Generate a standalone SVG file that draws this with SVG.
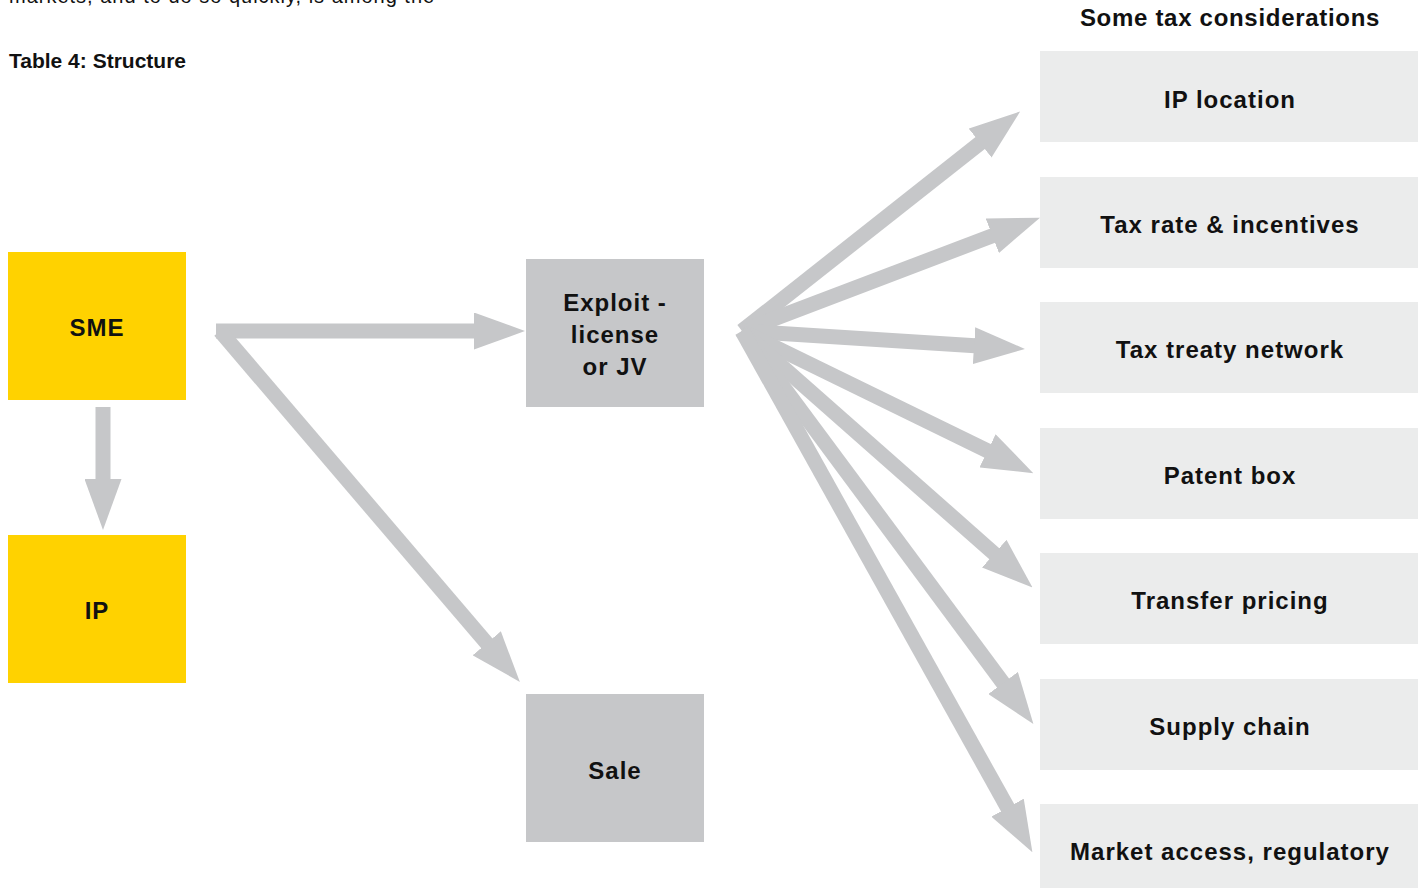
<svg xmlns="http://www.w3.org/2000/svg" width="1424" height="888" viewBox="0 0 1424 888">
<style>
text{font-family:"Liberation Sans",Arial,sans-serif;fill:#111111}
.lbl{font-size:24px;font-weight:bold;text-anchor:middle;letter-spacing:1px}
.yel{fill:#ffd200}
.dark{fill:#c6c7c9}
.light{fill:#ebecec}
.arr{stroke:#c6c7c9;stroke-width:15;fill:none;stroke-linecap:butt}
</style>
<defs>
<marker id="ah" markerUnits="userSpaceOnUse" markerWidth="51" markerHeight="37" viewBox="0 0 51 37" refX="5" refY="18.5" orient="auto">
<path d="M0,0 L51,18.5 L0,37 z" fill="#c6c7c9"/>
</marker>
</defs>
<rect width="1424" height="888" fill="#ffffff"/>
<text x="9" y="3" style="font-size:20px;letter-spacing:1px">markets, and to do so quickly, is among the</text>
<text x="9" y="68" style="font-size:21px;font-weight:bold">Table 4: Structure</text>
<text x="1230" y="26" class="lbl" style="letter-spacing:0.7px">Some tax considerations</text>

<g id="connectors">
<line class="arr" x1="103" y1="407" x2="103" y2="484" marker-end="url(#ah)"/>
<line class="arr" x1="216" y1="331" x2="479" y2="331" marker-end="url(#ah)"/>
<line class="arr" x1="220" y1="331" x2="490" y2="647" marker-end="url(#ah)"/>
<line class="arr" x1="742" y1="331" x2="984" y2="140" marker-end="url(#ah)"/>
<line class="arr" x1="742" y1="331" x2="997" y2="234" marker-end="url(#ah)"/>
<line class="arr" x1="742" y1="331" x2="979" y2="346" marker-end="url(#ah)"/>
<line class="arr" x1="742" y1="331" x2="992" y2="453" marker-end="url(#ah)"/>
<line class="arr" x1="742" y1="331" x2="998" y2="557" marker-end="url(#ah)"/>
<line class="arr" x1="742" y1="331" x2="1006" y2="687" marker-end="url(#ah)"/>
<line class="arr" x1="742" y1="331" x2="1010" y2="812" marker-end="url(#ah)"/>
</g>

<g id="sme"><rect class="yel" x="8" y="252" width="178" height="148"/><text class="lbl" x="97" y="336">SME</text></g>
<g id="ip"><rect class="yel" x="8" y="535" width="178" height="148"/><text class="lbl" x="97" y="619">IP</text></g>
<g id="exploit"><rect class="dark" x="526" y="259" width="178" height="148"/><text class="lbl" x="615" y="311">Exploit -</text><text class="lbl" x="615" y="343">license</text><text class="lbl" x="615" y="375">or JV</text></g>
<g id="sale"><rect class="dark" x="526" y="694" width="178" height="148"/><text class="lbl" x="615" y="779">Sale</text></g>

<g id="ip-location"><rect class="light" x="1040" y="51" width="378" height="91"/><text class="lbl" x="1230" y="108">IP location</text></g>
<g id="tax-rate"><rect class="light" x="1040" y="177" width="378" height="91"/><text class="lbl" x="1230" y="233">Tax rate &amp; incentives</text></g>
<g id="tax-treaty"><rect class="light" x="1040" y="302" width="378" height="91"/><text class="lbl" x="1230" y="358">Tax treaty network</text></g>
<g id="patent-box"><rect class="light" x="1040" y="428" width="378" height="91"/><text class="lbl" x="1230" y="484">Patent box</text></g>
<g id="transfer-pricing"><rect class="light" x="1040" y="553" width="378" height="91"/><text class="lbl" x="1230" y="609">Transfer pricing</text></g>
<g id="supply-chain"><rect class="light" x="1040" y="679" width="378" height="91"/><text class="lbl" x="1230" y="735">Supply chain</text></g>
<g id="market-access"><rect class="light" x="1040" y="804" width="378" height="91"/><text class="lbl" x="1230" y="860">Market access, regulatory</text></g>
</svg>
